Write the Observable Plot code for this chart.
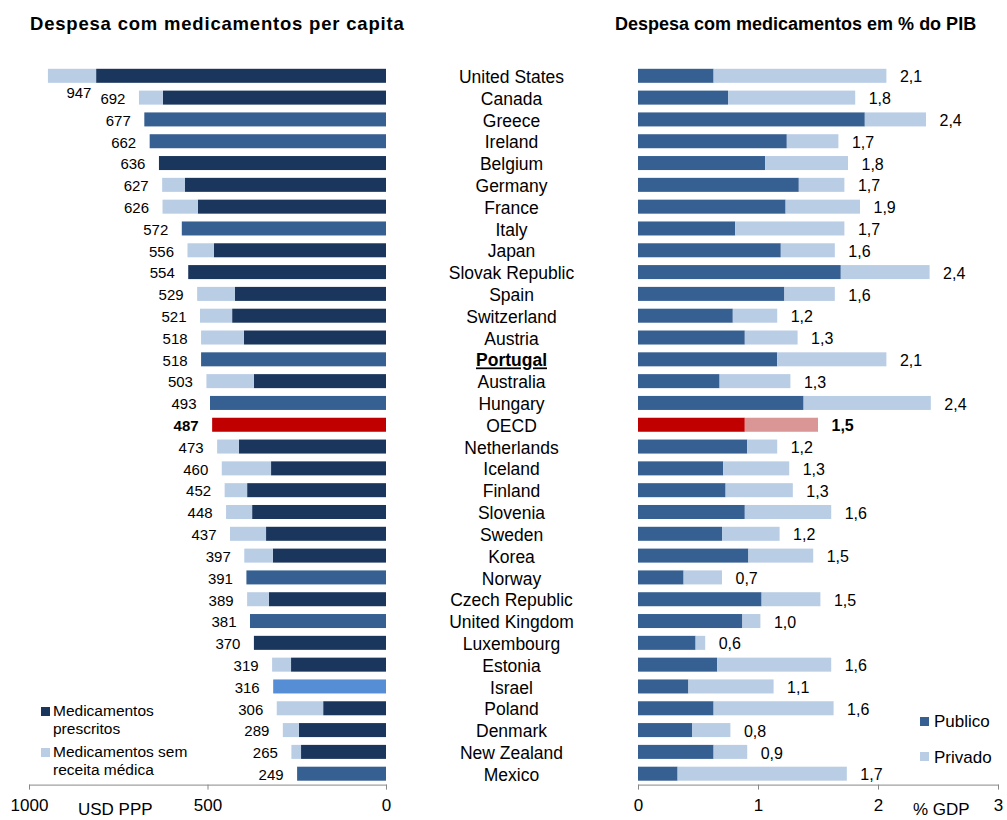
<!DOCTYPE html>
<html>
<head>
<meta charset="utf-8">
<script src="https://cdn.jsdelivr.net/npm/d3@7"></script>
<script src="https://cdn.jsdelivr.net/npm/@observablehq/plot@0.6"></script>
<style>
  html, body { margin: 0; padding: 0; background: #fff; overflow: hidden; }
  #wrap { position: relative; width: 1007px; height: 820px; overflow: hidden; font-family: Arial, "Liberation Sans", sans-serif; color: #000; }
  .abs { position: absolute; white-space: nowrap; line-height: 1; }
  .title { font-weight: bold; font-size: 18.5px; letter-spacing: 0.8px; }
  .sq { position: absolute; width: 9px; height: 9px; }
  .leg { position: absolute; font-size: 15.5px; line-height: 18px; white-space: nowrap; }
</style>
</head>
<body>
<div id="wrap">
  <div class="abs title" style="left:30px; top:15px;">Despesa com medicamentos per capita</div>
  <div class="abs title" style="left:615px; top:15px; font-size:18px; letter-spacing:0;">Despesa com medicamentos em % do PIB</div>
  <div id="left" class="abs" style="left:0; top:60px;"></div>
  <div id="right" class="abs" style="left:600px; top:60px;"></div>

  <div class="sq" style="left:41px; top:707px; background:#1B365D;"></div>
  <div class="leg" style="left:53px; top:702px;">Medicamentos<br>prescritos</div>
  <div class="sq" style="left:41px; top:748px; background:#B9CDE5;"></div>
  <div class="leg" style="left:53px; top:743px;">Medicamentos sem<br>receita médica</div>

  <div class="sq" style="left:920px; top:717px; background:#376092;"></div>
  <div class="abs" style="left:934px; top:713px; font-size:17px;">Publico</div>
  <div class="sq" style="left:920px; top:752px; background:#B9CDE5;"></div>
  <div class="abs" style="left:934px; top:749px; font-size:17px;">Privado</div>

  <div class="abs" style="left:78px; top:801px; font-size:17px;">USD PPP</div>
  <div class="abs" style="left:913px; top:801px; font-size:17px;">% GDP</div>
</div>
<script>
// ---- Data ----
const countries = ["United States","Canada","Greece","Ireland","Belgium","Germany","France","Italy","Japan","Slovak Republic","Spain","Switzerland","Austria","Portugal","Australia","Hungary","OECD","Netherlands","Iceland","Finland","Slovenia","Sweden","Korea","Norway","Czech Republic","United Kingdom","Luxembourg","Estonia","Israel","Poland","Denmark","New Zealand","Mexico"];
// Despesa per capita (USD PPP), total
const totalPerCapita = [947,692,677,662,636,627,626,572,556,554,529,521,518,518,503,493,487,473,460,452,448,437,397,391,389,381,370,319,316,306,289,265,249];
// Medicamentos prescritos (null = sem desagregação)
const prescribed = [812,625,null,null,636,563,527,null,482,554,423,431,398,null,370,null,null,412,322,389,375,336,317,null,328,null,370,266,null,176,244,238,null];
// Despesa em % do PIB: público e total
const publicGDP = [0.63,0.75,1.89,1.24,1.06,1.34,1.23,0.81,1.19,1.69,1.22,0.79,0.89,1.16,0.68,1.38,0.89,0.91,0.71,0.73,0.89,0.70,0.92,0.38,1.03,0.87,0.48,0.66,0.42,0.63,0.45,0.63,0.33];
const totalGDP = [2.07,1.81,2.40,1.67,1.75,1.72,1.85,1.72,1.64,2.43,1.64,1.16,1.33,2.07,1.27,2.44,1.50,1.16,1.26,1.29,1.61,1.18,1.46,0.70,1.52,1.02,0.56,1.61,1.13,1.63,0.77,0.91,1.74];
const ticksLeft = [0, 500, 1000];
const ticksRight = [0, 1, 2, 3];

const data = countries.map((c, i) => ({
  country: c,
  total: totalPerCapita[i],
  presc: prescribed[i],
  pub: publicGDP[i],
  gdp: totalGDP[i]
}));

const NAVY = "#1B365D", MID = "#376092", LIGHT = "#B9CDE5", ISR = "#558ED5", RED = "#C00000", PINK = "#D99694";
const FONT = 'Arial, "Liberation Sans", sans-serif';
const H = 760, MT = 4.9, MB = 35.4;
const inset = 3.9;
const yScale = {domain: countries, padding: 0, round: false, axis: null};

function totalColor(d) {
  if (d.country === "OECD") return RED;
  if (d.country === "Israel") return ISR;
  return MID;
}

const left = Plot.plot({
  width: 600, height: H,
  marginLeft: 29, marginRight: 214, marginTop: MT, marginBottom: MB,
  style: {fontFamily: FONT, fontSize: "17px", color: "#000", background: "transparent", overflow: "visible"},
  x: {domain: [0, 1000], reverse: true, ticks: ticksLeft, tickSize: 5, tickPadding: 9, tickFormat: d => String(d), label: null},
  y: yScale,
  color: {type: "identity"},
  marks: [
    Plot.barX(data, {filter: d => d.presc != null, y: "country", x1: 0, x2: "presc", fill: NAVY, insetTop: inset, insetBottom: inset}),
    Plot.barX(data, {filter: d => d.presc != null && d.total > d.presc, y: "country", x1: "presc", x2: "total", fill: LIGHT, insetTop: inset, insetBottom: inset}),
    Plot.barX(data, {filter: d => d.presc == null, y: "country", x1: 0, x2: "total", fill: totalColor, insetTop: inset, insetBottom: inset}),
    Plot.text(data, {filter: d => d.country !== "United States" && d.country !== "OECD", x: "total", y: "country", text: d => String(d.total), textAnchor: "end", dx: -14, dy: 1, fontSize: 15}),
    Plot.text(data, {filter: d => d.country === "OECD", x: "total", y: "country", text: d => String(d.total), textAnchor: "end", dx: -14, dy: 1, fontSize: 15, fontWeight: "bold"}),
    Plot.text(data, {filter: d => d.country === "United States", x: "total", y: "country", text: d => String(d.total), textAnchor: "end", dx: 43, dy: 17, fontSize: 15}),
    Plot.text(data, {filter: d => d.country !== "Portugal", x: 0, y: "country", text: "country", textAnchor: "middle", dx: 125, dy: 1, fontSize: 17.5}),
    Plot.text(data, {filter: d => d.country === "Portugal", x: 0, y: "country", text: "country", textAnchor: "middle", dx: 125, dy: 1, fontSize: 17.5, fontWeight: "bold"}),
    Plot.frame({anchor: "bottom", stroke: "#888"})
  ]
});

const fmt = v => v.toFixed(1).replace(".", ",");
const right = Plot.plot({
  width: 407, height: H,
  marginLeft: 38, marginRight: 9, marginTop: MT, marginBottom: MB,
  style: {fontFamily: FONT, fontSize: "17px", color: "#000", background: "transparent", overflow: "visible"},
  x: {domain: [0, 3], ticks: ticksRight, tickSize: 5, tickPadding: 9, tickFormat: d => String(d), label: null},
  y: yScale,
  color: {type: "identity"},
  marks: [
    Plot.barX(data, {y: "country", x1: 0, x2: "pub", fill: d => d.country === "OECD" ? RED : MID, insetTop: inset, insetBottom: inset}),
    Plot.barX(data, {y: "country", x1: "pub", x2: "gdp", fill: d => d.country === "OECD" ? PINK : LIGHT, insetTop: inset, insetBottom: inset}),
    Plot.text(data, {filter: d => d.country !== "OECD", x: "gdp", y: "country", text: d => fmt(d.gdp), textAnchor: "start", dx: 13, dy: 1, fontSize: 16}),
    Plot.text(data, {filter: d => d.country === "OECD", x: "gdp", y: "country", text: d => fmt(d.gdp), textAnchor: "start", dx: 13, dy: 1, fontSize: 16, fontWeight: "bold"}),
    Plot.frame({anchor: "bottom", stroke: "#888"})
  ]
});

for (const svg of [left, right]) {
  svg.querySelectorAll('[aria-label="x-axis tick"] path, [aria-label="x-axis tick"] line').forEach(p => p.setAttribute("stroke", "#888"));
}
left.querySelectorAll("text").forEach(t => {
  if (t.textContent === "Portugal") t.setAttribute("text-decoration", "underline");
});

document.getElementById("left").appendChild(left);
document.getElementById("right").appendChild(right);
</script>
</body>
</html>
